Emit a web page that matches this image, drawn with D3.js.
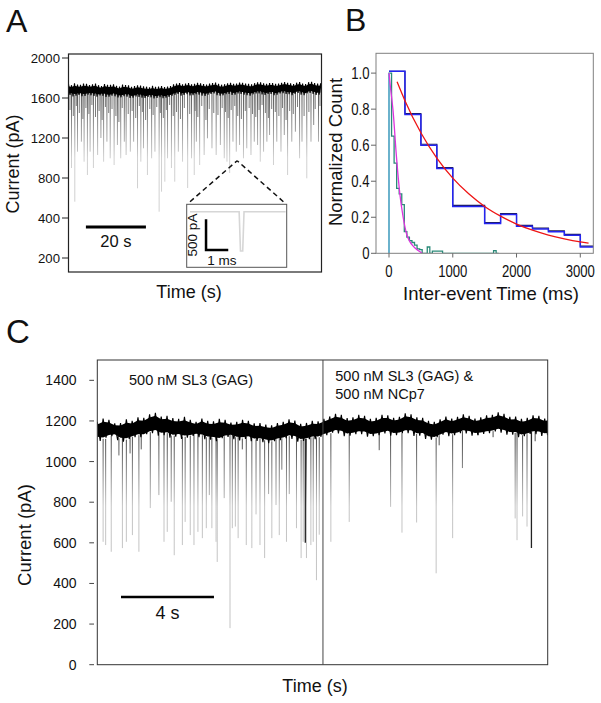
<!DOCTYPE html>
<html><head><meta charset="utf-8">
<script src="https://cdn.jsdelivr.net/npm/d3@7"></script>
<style>
html,body{margin:0;padding:0;background:#fff;}
svg{display:block;font-family:"Liberation Sans",Arial,Helvetica,sans-serif;}
</style></head><body>
<svg id="fig" width="601" height="703"></svg>
<script>
// ================= DATA =================
// ---- Panel A : current trace (time in s, current in pA)
const aTickValues = [0, 400, 800, 1200, 1600, 2000];
const aTickLabels = ["200", "400", "800", "1200", "1600", "2000"];
const aBandStep = 1;
const aBandTimes = d3.range(0, 84.5, aBandStep);
const aBandUpper = [1738,1728,1746,1735,1732,1745,1742,1730,1736,1744,1728,1720,1740,1733,1731,1738,1722,1715,1734,1729,1726,1712,1719,1727,1724,1716,1713,1706,1721,1712,1714,1720,1709,1715,1720,1736,1744,1750,1737,1745,1749,1738,1741,1752,1746,1740,1735,1744,1748,1755,1741,1733,1738,1747,1751,1742,1744,1754,1752,1745,1741,1736,1748,1757,1756,1748,1742,1750,1750,1741,1745,1752,1760,1753,1748,1740,1753,1760,1744,1739,1758,1762,1750,1744,1746];
const aBandLower = [1624,1632,1616,1622,1630,1618,1621,1633,1627,1620,1614,1625,1622,1610,1612,1624,1617,1606,1607,1618,1614,1600,1604,1615,1611,1603,1600,1612,1607,1596,1601,1608,1597,1604,1610,1622,1632,1640,1624,1631,1638,1626,1627,1639,1634,1624,1621,1633,1640,1645,1629,1622,1627,1638,1642,1630,1634,1646,1640,1633,1629,1624,1637,1646,1645,1636,1631,1640,1640,1628,1634,1645,1648,1640,1637,1629,1642,1650,1634,1627,1645,1650,1640,1631,1632];
const aSpikeTimes = [1.0,2.1,3.0,4.3,5.2,6.3,7.2,8.3,9.7,10.8,11.7,12.8,13.9,15.2,16.3,17.4,18.6,19.2,20.6,21.7,23.0,24.1,25.0,26.3,27.7,28.8,30.2,31.0,32.1,33.0,34.3,35.4,36.6,38.0,39.7,41.0,41.9,42.6,43.7,45.2,46.3,47.8,49.2,50.6,51.9,52.8,53.7,54.8,55.9,57.0,58.3,59.4,60.8,61.9,63.0,63.9,65.0,66.1,67.0,68.3,69.4,70.8,71.9,73.0,74.4,75.6,77.0,77.8,79.4,80.8,81.7,83.3];
const aSpikeMins = [900,563,1063,1163,963,830,1063,900,1030,1200,963,1163,997,930,1130,997,1163,1030,1063,1163,697,963,1097,830,997,1063,463,663,763,997,900,763,1063,963,700,997,830,1163,930,1030,1197,1097,1030,1130,997,963,850,1163,1063,1130,997,1097,1030,1163,1130,963,1063,1163,1230,930,1163,1063,1230,830,1163,1263,997,1163,797,1163,1330,1163];
const aShortTimes = [0.5,1.6,2.6,3.6,4.8,5.8,6.8,7.8,9.0,10.2,11.2,12.3,13.4,14.5,15.8,16.8,17.9,19.9,21.2,22.4,23.6,24.6,25.7,27.1,28.2,29.4,30.6,31.6,32.6,33.7,34.9,36.0,37.3,38.6,40.4,42.2,43.1,44.4,45.8,46.9,48.4,49.8,51.2,52.3,53.2,54.2,55.4,56.4,57.6,58.9,60.2,61.3,62.4,63.5,64.5,65.6,66.6,67.7,68.9,70.1,71.3,72.5,73.7,74.9,76.3,78.5,80.1,82.2,83.8];
const aShortMins = [1480,1420,1520,1450,1390,1500,1440,1530,1410,1470,1380,1510,1450,1490,1420,1360,1500,1440,1470,1400,1520,1460,1380,1490,1430,1510,1450,1400,1480,1530,1420,1460,1390,1500,1440,1470,1410,1520,1380,1490,1450,1430,1500,1460,1400,1480,1520,1420,1390,1470,1500,1440,1410,1480,1530,1450,1400,1490,1460,1420,1500,1380,1470,1440,1510,1420,1460,1490,1520];
const aScaleBarSeconds = 20;
// zoomed event in inset (time in ms, current in pA)
const insetTimes = [0.15, 2.36, 2.42, 2.52, 2.58, 4.45];
const insetCurrents = [1700, 1700, 1060, 1060, 1700, 1700];
const insetBarMs = 1, insetBarPA = 500;

// ---- Panel B : inter-event histograms (ms, normalized count)
const bXTicks = [0, 1000, 2000, 3000];
const bYTicks = [0, 0.2, 0.4, 0.6, 0.8, 1.0];
const bYLabels = ["0", "0.2", "0.4", "0.6", "0.8", "1.0"];
const blueBinWidth = 250;
const blueCounts = [1.01,0.77,0.60,0.47,0.26,0.26,0.165,0.215,0.15,0.135,0.12,0.10,0.035];
const blackCounts = [1.01,0.775,0.605,0.476,0.266,0.266,0.17,0.22,0.155,0.14,0.125,0.105,0.04];
const tealBinWidth = 40;
const tealCounts = [1.0,0.65,0.50,0.36,0.33,0.27,0.12,0.09,0.07,0.06,0.045,0.025,0.02,0,0,0.035,0,0.012,0.012,0.012,0.012,0,0,0,0,0,0,0,0,0,0,0,0,0,0,0,0,0,0,0,0,0.015,0];
const redFitT = [126,250,500,750,1000,1250,1500,1750,2000,2250,2500,2750,3000,3130];
const redFitY = [0.952,0.847,0.669,0.528,0.417,0.330,0.260,0.206,0.162,0.128,0.101,0.080,0.063,0.056];
const magFitT = [0,20,64,117,170,222,274,327,379,431,480,520];
const magFitY = [1.0,0.93,0.79,0.535,0.33,0.20,0.11,0.065,0.04,0.022,0.01,0.0];

// ---- Panel C : trace (time in s, current in pA)
const cTickValues = [0, 200, 400, 600, 800, 1000, 1200, 1400];
const cDividerTime = 9.71;
const cBandStep = 0.25;
const cBandTimes = d3.range(0, 19.6, cBandStep);
const cBandUpper = [1195,1212,1205,1188,1190,1208,1200,1218,1215,1232,1240,1222,1225,1214,1210,1220,1205,1196,1212,1200,1198,1210,1205,1192,1195,1206,1200,1188,1190,1182,1178,1190,1195,1208,1202,1186,1190,1200,1198,1210,1222,1235,1230,1214,1218,1230,1225,1210,1215,1230,1228,1215,1220,1238,1232,1218,1215,1200,1195,1208,1222,1212,1220,1232,1225,1212,1218,1228,1230,1242,1235,1220,1222,1210,1215,1228,1225,1212,1220];
const cBandLower = [1110,1102,1118,1125,1105,1098,1112,1120,1120,1135,1140,1128,1130,1118,1122,1112,1118,1126,1120,1110,1108,1100,1115,1122,1110,1104,1112,1100,1102,1095,1090,1100,1105,1115,1112,1098,1102,1110,1110,1122,1130,1142,1138,1125,1128,1135,1135,1122,1125,1130,1138,1128,1130,1140,1140,1126,1128,1112,1108,1120,1132,1125,1130,1140,1138,1128,1130,1136,1140,1148,1142,1132,1132,1120,1125,1136,1135,1126,1130];
const cSpikeTimes = [0.25,0.36,0.60,0.93,1.08,1.25,1.41,1.51,1.79,1.89,2.28,2.65,2.87,3.01,3.18,3.31,3.66,3.78,4.00,4.16,4.33,4.52,4.69,4.82,4.93,5.11,5.16,5.46,5.71,5.81,5.94,6.06,6.24,6.41,6.65,6.83,7.00,7.20,7.37,7.51,7.69,7.83,7.94,8.14,8.26,8.57,8.77,8.86,9.00,9.19,9.29,9.43,9.55,10.05,10.84,12.13,12.62,13.11,13.74,14.58,14.71,15.29,15.71,16.39,17.03,17.98,18.06,18.30,18.49,18.84];
const cSpikeMins = [605,589,556,1030,574,605,1040,638,556,1060,771,835,605,654,802,539,589,703,638,589,654,623,672,835,672,605,506,820,180,672,680,623,1060,589,574,740,589,525,840,623,786,638,960,605,840,672,525,605,525,589,605,416,640,605,703,1056,777,650,700,450,1080,623,968,1130,1120,720,613,730,680,1100];
const cDarkTimes = [8.95, 18.68];
const cDarkMins = [600, 574];
const cScaleBarSeconds = 4;
const cLabelLeft = ["500 nM SL3 (GAG)"];
const cLabelRight = ["500 nM SL3 (GAG) &", "500 nM NCp7"];

// ================= DRAWING =================
const svg = d3.select("#fig");
const defs = svg.append("defs");

function txt(g, s, x, y, size, opts = {}) {
  const t = g.append("text").attr("x", x).attr("y", y).attr("font-size", size)
    .attr("fill", opts.fill || "#111").attr("text-anchor", opts.anchor || "start").text(s);
  if (opts.rotate) t.attr("transform", `rotate(-90,${x},${y})`);
  if (opts.sx) t.attr("transform", `translate(${x},${y}) scale(${opts.sx},1) translate(${-x},${-y})`);
  return t;
}
function grad(id, y1, y2, c1, c2) {
  const g = defs.append("linearGradient").attr("id", id).attr("gradientUnits", "userSpaceOnUse")
    .attr("x1", 0).attr("x2", 0).attr("y1", y1).attr("y2", y2);
  g.append("stop").attr("offset", 0).attr("stop-color", c1);
  g.append("stop").attr("offset", 1).attr("stop-color", c2);
}
// noisy band: solid core + a zig-zag between the envelopes
function drawBand(g, times, hi, lo, step, xs, ys, core) {
  const rows = times.map((t, i) => ({t, hi: hi[i], lo: lo[i]}));
  g.append("path").datum(rows)
    .attr("d", d3.area().x(d => xs(d.t)).y0(d => ys(d.lo + (d.hi - d.lo) * core)).y1(d => ys(d.hi - (d.hi - d.lo) * core)))
    .attr("fill", "#000");
  const z = [];
  rows.forEach((d, i) => {
    const next = rows[Math.min(i + 1, rows.length - 1)];
    z.push([xs(d.t), ys(d.hi)]); z.push([xs(d.t + step / 2), ys(next.lo)]);
  });
  g.append("path").attr("d", d3.line()(z))
    .attr("fill", "none").attr("stroke", "#000").attr("stroke-width", 1.1);
}

// panel letters
txt(svg, "A", 6, 31.5, 32);
txt(svg, "B", 345, 31, 32);
txt(svg, "C", 6, 342.5, 33);

// ---------- Panel A ----------
const xA = d3.scaleLinear().domain([0, 84.3]).range([68.5, 321.5]);
const yA = d3.scaleLinear().domain([-140, 2040]).range([272, 54]);
defs.append("clipPath").attr("id", "clipA").append("rect")
  .attr("x", 68.5).attr("y", 54).attr("width", 253).attr("height", 218);
grad("gA", yA(1620), yA(1000), "#383838", "#c8c8c8");
const gA = svg.append("g");
const aPlot = gA.append("g").attr("clip-path", "url(#clipA)");
const aLowAt = t => aBandLower[Math.max(0, Math.min(aBandLower.length - 1, Math.round(t / aBandStep)))];
aPlot.selectAll("line.as").data(aShortTimes.map((t, i) => [t, aShortMins[i]])).join("line")
  .attr("x1", d => xA(d[0])).attr("x2", d => xA(d[0]))
  .attr("y1", d => yA(aLowAt(d[0])) - 2).attr("y2", d => yA(d[1]))
  .attr("stroke", "#444").attr("stroke-width", 0.7);
aPlot.selectAll("line.al").data(aSpikeTimes.map((t, i) => [t, aSpikeMins[i]])).join("line")
  .attr("x1", d => xA(d[0])).attr("x2", d => xA(d[0]))
  .attr("y1", d => yA(aLowAt(d[0])) - 2).attr("y2", d => yA(d[1]))
  .attr("stroke", "url(#gA)").attr("stroke-width", 0.85);
drawBand(aPlot, aBandTimes, aBandUpper, aBandLower, aBandStep, xA, yA, 0.18);
gA.append("rect").attr("x", 68.5).attr("y", 54).attr("width", 253).attr("height", 218)
  .attr("fill", "none").attr("stroke", "#222").attr("stroke-width", 1.2);
aTickValues.forEach((v, i) => {
  gA.append("line").attr("x1", 62).attr("x2", 68.5).attr("y1", yA(v)).attr("y2", yA(v))
    .attr("stroke", "#222").attr("stroke-width", 1);
  txt(gA, aTickLabels[i], 60, yA(v) + 4.7, 13.2, {anchor: "end"});
});
txt(gA, "Current (pA)", 18.5, 164, 18, {anchor: "middle", rotate: true});
txt(gA, "Time (s)", 189, 297.5, 18, {anchor: "middle"});
// scale bar
const aSB0 = 5.8, aSBy = 310;
gA.append("line").attr("x1", xA(aSB0)).attr("x2", xA(aSB0 + aScaleBarSeconds))
  .attr("y1", yA(aSBy)).attr("y2", yA(aSBy)).attr("stroke", "#000").attr("stroke-width", 3);
txt(gA, aScaleBarSeconds + " s", (xA(aSB0) + xA(aSB0 + aScaleBarSeconds)) / 2, 247, 16.5, {anchor: "middle"});
// dashed zoom lines
const apex = [56.2, 973];
[[40.5, 563], [71.6, 563]].forEach(p => {
  gA.append("line").attr("x1", xA(p[0])).attr("y1", yA(p[1])).attr("x2", xA(apex[0])).attr("y2", yA(apex[1]))
    .attr("stroke", "#111").attr("stroke-width", 1.5).attr("stroke-dasharray", "5,3.5");
});
// inset
const xI = d3.scaleLinear().domain([0, 4.5]).range([186.7, 286.7]);
const yI = d3.scaleLinear().domain([795, 1820]).range([267.3, 204.3]);
gA.append("rect").attr("x", 186.7).attr("y", 204.3).attr("width", 100).attr("height", 63)
  .attr("fill", "#fff").attr("stroke", "#555").attr("stroke-width", 1);
gA.append("path").datum(insetTimes.map((t, i) => [t, insetCurrents[i]]))
  .attr("d", d3.line().x(d => xI(d[0])).y(d => yI(d[1])))
  .attr("fill", "none").attr("stroke", "#d6d6d6").attr("stroke-width", 1.6);
const ib0 = 0.87, ibI = 1076;
gA.append("path").attr("d", d3.line()([[xI(ib0), yI(ibI + insetBarPA)], [xI(ib0), yI(ibI)], [xI(ib0 + insetBarMs), yI(ibI)]]))
  .attr("fill", "none").attr("stroke", "#000").attr("stroke-width", 2.5);
txt(gA, insetBarPA + " pA", 196.5, 235, 13.5, {anchor: "middle", rotate: true});
txt(gA, insetBarMs + " ms", 207.3, 265, 13.5);

// ---------- Panel B ----------
const xB = d3.scaleLinear().domain([-204, 3204]).range([376, 593.3]);
const yB = d3.scaleLinear().domain([0, 1.11]).range([253.3, 53.3]);
defs.append("clipPath").attr("id", "clipB").append("rect")
  .attr("x", 376).attr("y", 53.3).attr("width", 217.3).attr("height", 200);
const gB = svg.append("g");
const bPlot = gB.append("g").attr("clip-path", "url(#clipB)");
function steps(counts, w, start0) {
  const pts = start0 ? [[0, 0]] : [];
  counts.forEach((c, i) => { pts.push([i * w, c]); pts.push([(i + 1) * w, c]); });
  return pts;
}
const lineB = d3.line().x(d => xB(d[0])).y(d => yB(d[1]));
bPlot.append("path").datum(steps(blackCounts, blueBinWidth, false)).attr("d", lineB)
  .attr("fill", "none").attr("stroke", "#1a1a50").attr("stroke-width", 1.1);
bPlot.append("path").datum(steps(blueCounts, blueBinWidth, false)).attr("d", lineB)
  .attr("fill", "none").attr("stroke", "#2424f2").attr("stroke-width", 1.5);
bPlot.append("path").datum(steps(tealCounts, tealBinWidth, true)).attr("d", lineB)
  .attr("fill", "none").attr("stroke", "#2a8a78").attr("stroke-width", 1.3);
bPlot.append("line").attr("x1", xB(0)).attr("x2", xB(0)).attr("y1", yB(0)).attr("y2", yB(tealCounts[0]))
  .attr("stroke", "#6cb2cc").attr("stroke-width", 2);
bPlot.append("path").datum(magFitT.map((t, i) => [t, magFitY[i]]))
  .attr("d", lineB.curve(d3.curveMonotoneX)).attr("fill", "none").attr("stroke", "#dd33dd").attr("stroke-width", 1.3);
bPlot.append("path").datum(redFitT.map((t, i) => [t, redFitY[i]]))
  .attr("d", lineB.curve(d3.curveMonotoneX)).attr("fill", "none").attr("stroke", "#ee1515").attr("stroke-width", 1.3);
gB.append("rect").attr("x", 376).attr("y", 53.3).attr("width", 217.3).attr("height", 200)
  .attr("fill", "none").attr("stroke", "#808080").attr("stroke-width", 1);
bYTicks.forEach((v, i) => {
  gB.append("line").attr("x1", 371).attr("x2", 376).attr("y1", yB(v)).attr("y2", yB(v))
    .attr("stroke", "#666").attr("stroke-width", 1);
  txt(gB, bYLabels[i], 369.5, yB(v) + 5.8, 16, {anchor: "end", sx: 0.82});
});
bXTicks.forEach(v => {
  gB.append("line").attr("x1", xB(v)).attr("x2", xB(v)).attr("y1", 253.3).attr("y2", 257.5)
    .attr("stroke", "#666").attr("stroke-width", 1);
  txt(gB, String(v), xB(v), 277.5, 16, {anchor: "middle", sx: 0.82});
});
txt(gB, "Normalized Count", 341.5, 152, 18.5, {anchor: "middle", rotate: true});
txt(gB, "Inter-event Time (ms)", 491, 299.5, 18.5, {anchor: "middle"});

// ---------- Panel C ----------
const xC = d3.scaleLinear().domain([0, 19.38]).range([97.3, 547.7]);
const yC = d3.scaleLinear().domain([0, 1500]).range([664.7, 360]);
defs.append("clipPath").attr("id", "clipC").append("rect")
  .attr("x", 97.3).attr("y", 360).attr("width", 450.4).attr("height", 304.7);
grad("gC", yC(1110), yC(780), "#4a4a4a", "#c4c4c4");
const gC = svg.append("g");
const cPlot = gC.append("g").attr("clip-path", "url(#clipC)");
const cLowAt = t => cBandLower[Math.max(0, Math.min(cBandLower.length - 1, Math.round(t / cBandStep)))];
cPlot.selectAll("line.cs").data(cSpikeTimes.map((t, i) => [t, cSpikeMins[i]])).join("line")
  .attr("x1", d => xC(d[0])).attr("x2", d => xC(d[0]))
  .attr("y1", d => yC(cLowAt(d[0])) - 2).attr("y2", d => yC(d[1]))
  .attr("stroke", "url(#gC)").attr("stroke-width", 1);
cPlot.selectAll("line.cd").data(cDarkTimes.map((t, i) => [t, cDarkMins[i]])).join("line")
  .attr("x1", d => xC(d[0])).attr("x2", d => xC(d[0]))
  .attr("y1", d => yC(cLowAt(d[0])) - 2).attr("y2", d => yC(d[1]))
  .attr("stroke", "#222").attr("stroke-width", 1.3);
drawBand(cPlot, cBandTimes, cBandUpper, cBandLower, cBandStep, xC, yC, 0.15);
gC.append("rect").attr("x", 97.3).attr("y", 360).attr("width", 450.4).attr("height", 304.7)
  .attr("fill", "none").attr("stroke", "#333").attr("stroke-width", 1);
gC.append("line").attr("x1", xC(cDividerTime)).attr("x2", xC(cDividerTime)).attr("y1", 360).attr("y2", 664.7)
  .attr("stroke", "#444").attr("stroke-width", 1);
cTickValues.forEach(v => {
  gC.append("line").attr("x1", 89.3).attr("x2", 94).attr("y1", yC(v)).attr("y2", yC(v))
    .attr("stroke", "#444").attr("stroke-width", 1);
  txt(gC, String(v), 76.5, yC(v) + 5, 14, {anchor: "end"});
});
txt(gC, "Current (pA)", 30.5, 535, 18.5, {anchor: "middle", rotate: true});
txt(gC, "Time (s)", 315, 692, 18, {anchor: "middle"});
txt(gC, cLabelLeft[0], 129, 385, 14.5);
cLabelRight.forEach((s, i) => txt(gC, s, 335.3, 381 + i * 17.5, 14.5));
const cSB0 = 1.02, cSBy = 333;
gC.append("line").attr("x1", xC(cSB0)).attr("x2", xC(cSB0 + cScaleBarSeconds))
  .attr("y1", yC(cSBy)).attr("y2", yC(cSBy)).attr("stroke", "#000").attr("stroke-width", 2.5);
txt(gC, cScaleBarSeconds + " s", (xC(cSB0) + xC(cSB0 + cScaleBarSeconds)) / 2, 619, 18, {anchor: "middle"});
</script>
</body></html>
